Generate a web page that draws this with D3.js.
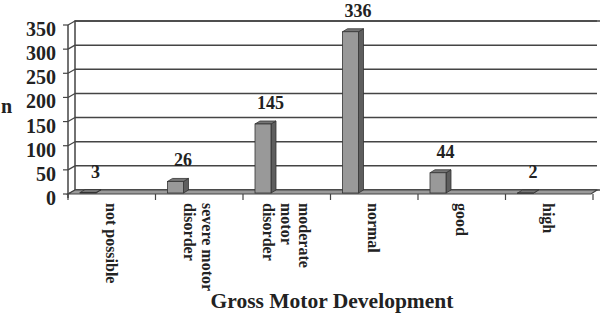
<!DOCTYPE html>
<html>
<head>
<meta charset="utf-8">
<script src="https://cdn.jsdelivr.net/npm/d3@7"></script>
<style>
  body { margin: 0; background: #fff; }
</style>
</head>
<body>
<div id="chart"></div>
<script>
// data
const categories = ["not possible", "severe motor disorder", "moderate motor disorder", "normal", "good", "high"];
const labelLines = [["not possible"], ["severe motor", "disorder"], ["moderate", "motor", "disorder"], ["normal"], ["good"], ["high"]];
const counts = [3, 26, 145, 336, 44, 2];
const yTicks = [0, 50, 100, 150, 200, 250, 300, 350];

const width = 600, height = 314;
const depth = {x: 7, y: -4};       // wall depth offset
const barDepth = {x: 5, y: -3};

const svg = d3.select("#chart").append("svg")
    .attr("width", width)
    .attr("height", height);

const x = d3.scaleBand(categories, [68, 593]).padding(0);
const y = d3.scaleLinear([0, 350], [194, 25]);

function label(sel) {
    return sel.attr("font-family", "Liberation Serif")
        .attr("font-weight", "bold")
        .attr("fill", "#222");
}

// back wall
const back = svg.append("g");
back.append("rect")
    .attr("x", x.range()[0] + depth.x)
    .attr("y", y(350) + depth.y)
    .attr("width", x.range()[1] - x.range()[0] + depth.x - 3)
    .attr("height", y(0) - y(350))
    .attr("fill", "#fff")
    .attr("stroke", "#444")
    .attr("stroke-width", 1.5);

// gridlines on back wall, with the diagonal on the left wall
const grid = back.append("g")
    .selectAll("g")
    .data(yTicks)
    .join("g");
grid.append("line")
    .attr("x1", x.range()[0] + depth.x)
    .attr("x2", x.range()[1] + depth.x - 3)
    .attr("y1", d => y(d) + depth.y)
    .attr("y2", d => y(d) + depth.y)
    .attr("stroke", "#444")
    .attr("stroke-width", 1.5);
grid.append("line")
    .attr("x1", x.range()[0] - 5)
    .attr("x2", x.range()[0])
    .attr("y1", d => y(d))
    .attr("y2", d => y(d))
    .attr("stroke", "#444")
    .attr("stroke-width", 1.2);
grid.append("line")
    .attr("x1", x.range()[0])
    .attr("x2", x.range()[0] + depth.x)
    .attr("y1", d => y(d))
    .attr("y2", d => y(d) + depth.y)
    .attr("stroke", "#444")
    .attr("stroke-width", 1.2);

// front vertical axis
back.append("line")
    .attr("x1", x.range()[0]).attr("x2", x.range()[0])
    .attr("y1", y(350)).attr("y2", y(0) + 4)
    .attr("stroke", "#444").attr("stroke-width", 1.5);

// floor
const x0 = x.range()[0], x1 = x.range()[1] - 2;
svg.append("path")
    .attr("d", `M${x0},${y(0)} L${x1},${y(0)} L${x1 + depth.x - 1},${y(0) + depth.y} L${x0 + depth.x},${y(0) + depth.y} Z`)
    .attr("fill", "#9a9a9a")
    .attr("stroke", "#444")
    .attr("stroke-width", 1.2);

// x ticks at category boundaries
svg.append("g")
    .selectAll("line")
    .data(categories.concat(["end"]))
    .join("line")
    .attr("x1", (d, i) => x0 + i * x.bandwidth())
    .attr("x2", (d, i) => x0 + i * x.bandwidth())
    .attr("y1", y(0))
    .attr("y2", y(0) + 6)
    .attr("stroke", "#444")
    .attr("stroke-width", 1.2);

// y tick labels
svg.append("g")
    .selectAll("text")
    .data(yTicks)
    .join("text")
    .call(label)
    .attr("x", 56)
    .attr("y", d => y(d) + 11)
    .attr("text-anchor", "end")
    .attr("font-size", 20)
    .text(d => d);

svg.append("text")
    .call(label)
    .attr("x", 1)
    .attr("y", 113)
    .attr("font-size", 20)
    .text("n");

// bars
const bw = 16;
const bars = svg.append("g")
    .selectAll("g")
    .data(categories.map((c, i) => ({c, v: counts[i]})))
    .join("g")
    .attr("transform", d => `translate(${x(d.c) + 12},0)`);

bars.append("path") // side
    .attr("d", d => `M${bw},${y(d.v)} L${bw + barDepth.x},${y(d.v) + barDepth.y} L${bw + barDepth.x},${y(0) - 1 + barDepth.y} L${bw},${y(0) - 1} Z`)
    .attr("fill", "#5e5e5e")
    .attr("stroke", "#333")
    .attr("stroke-width", 0.8);
bars.append("path") // top
    .attr("d", d => `M0,${y(d.v)} L${barDepth.x},${y(d.v) + barDepth.y} L${bw + barDepth.x},${y(d.v) + barDepth.y} L${bw},${y(d.v)} Z`)
    .attr("fill", "#757575")
    .attr("stroke", "#333")
    .attr("stroke-width", 0.8);
bars.append("rect") // front
    .attr("x", 0)
    .attr("y", d => y(d.v))
    .attr("width", bw)
    .attr("height", d => Math.max(0.5, y(0) - 1 - y(d.v)))
    .attr("fill", "#999")
    .attr("stroke", "#333")
    .attr("stroke-width", 0.8);

bars.append("text")
    .call(label)
    .attr("x", (bw + barDepth.x) / 2 + 5)
    .attr("y", d => y(d.v) - 15)
    .attr("text-anchor", "middle")
    .attr("font-size", 18)
    .text(d => d.v);

// category labels, rotated
const lab = svg.append("g")
    .selectAll("g")
    .data(categories)
    .join("g")
    .attr("transform", (d, i) => `translate(${x(d) + x.bandwidth() / 2 - 1},203) rotate(90)`);
lab.selectAll("text")
    .data((d, i) => labelLines[i].map((t, j, a) => ({t, off: (j - (a.length - 1) / 2) * 18})))
    .join("text")
    .call(label)
    .attr("x", 0)
    .attr("y", d => d.off + 5)
    .attr("font-size", 16)
    .text(d => d.t);

svg.append("text")
    .call(label)
    .attr("x", 332)
    .attr("y", 308)
    .attr("text-anchor", "middle")
    .attr("font-size", 21.5)
    .text("Gross Motor Development");
</script>
</body>
</html>
